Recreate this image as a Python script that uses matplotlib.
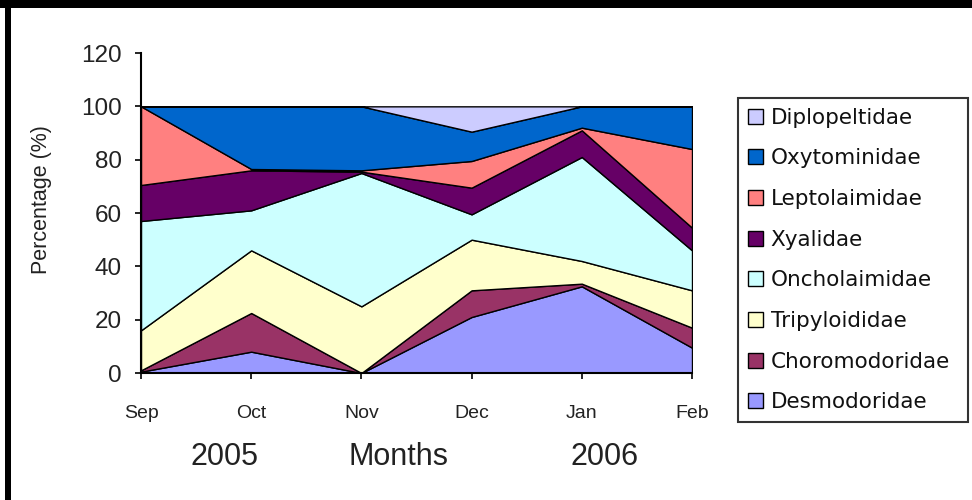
import matplotlib
matplotlib.use("Agg")
import matplotlib.pyplot as plt
from matplotlib.patches import Rectangle

plt.rcParams['font.family'] = ['Liberation Sans', 'DejaVu Sans']

months = ["Sep", "Oct", "Nov", "Dec", "Jan", "Feb"]

# Percentage of each family per month (stacked bottom to top)
desmodoridae = [0.5, 8, 0, 21, 32.5, 9.5]
choromodoridae = [0.5, 14.5, 0, 10, 1, 7.5]
tripyloididae = [15, 23.5, 25, 19, 8.5, 14]
oncholaimidae = [41, 15, 50, 9.5, 39, 15]
xyalidae = [13.5, 15, 0.5, 10, 10, 8.5]
leptolaimidae = [29.5, 0.5, 0.5, 10, 1, 29.5]
oxystominidae = [0, 23.5, 24, 11, 8, 16]
diplopeltidae = [0, 0, 0, 9.5, 0, 0]

names = ["Desmodoridae", "Choromodoridae", "Tripyloididae", "Oncholaimidae",
         "Xyalidae", "Leptolaimidae", "Oxytominidae", "Diplopeltidae"]
series = [desmodoridae, choromodoridae, tripyloididae, oncholaimidae,
          xyalidae, leptolaimidae, oxystominidae, diplopeltidae]
colors = ["#9999FF", "#993366", "#FFFFCC", "#CCFFFF",
          "#660066", "#FF8080", "#0066CC", "#CCCCFF"]

yticks = [0, 20, 40, 60, 80, 100, 120]

fig = plt.figure(figsize=(9.72, 5), dpi=100)
W, H = 972, 500
ax = fig.add_axes([141 / W, 1 - 373 / H, (692 - 141) / W, (373 - 53) / H])

x = list(range(len(months)))
polys = ax.stackplot(x, *series, colors=colors, edgecolor="black",
                     linewidth=1.0, labels=names)

ax.set_xlim(0, len(months) - 1)
ax.set_ylim(0, 120)
ax.set_yticks(yticks)
ax.set_yticklabels([str(v) for v in yticks], fontsize=17.5, color="#222222")
ax.set_xticks(x)
ax.set_xticklabels(months, fontsize=14, color="#222222")
ax.tick_params(axis="y", length=4, width=1.2, pad=10)
ax.tick_params(axis="x", length=4, width=1.2, pad=19)
for s in ("top", "right"):
    ax.spines[s].set_visible(False)
for s in ("left", "bottom"):
    ax.spines[s].set_linewidth(1.5)
    ax.spines[s].set_color("black")

ax.set_ylabel("Percentage (%)", fontsize=15.5, color="#222222")
ax.yaxis.set_label_coords((52 - 141) / (692 - 141), (373 - 200) / (373 - 53))

# Year and axis captions under the month labels
cap = dict(fontsize=22, ha="center", va="center", color="#222222")
fig.text(224 / W, 1 - 457 / H, "2005", **cap)
fig.text(398 / W, 1 - 457 / H, "Months", **cap)
fig.text(605 / W, 1 - 457 / H, "2006", **cap)

handles = polys[::-1]
labels = names[::-1]
leg = fig.legend(handles, labels, loc="upper left",
                 bbox_to_anchor=(738 / W, 1 - 420 / H, 230 / W, 322 / H),
                 mode="expand", borderaxespad=0,
                 prop={"family": "DejaVu Sans", "size": 15.5},
                 frameon=True, fancybox=False, shadow=False,
                 handlelength=0.7, handleheight=0.7, handletextpad=0.37,
                 labelspacing=0.96, borderpad=0.45)
leg.get_frame().set_edgecolor("black")
leg.get_frame().set_linewidth(1.5)
for t in leg.get_texts():
    t.set_color("#111111")

# Frame edges along the top and left of the figure
fig.add_artist(Rectangle((0, 1 - 8 / H), 1, 8 / H, transform=fig.transFigure,
                         facecolor="black", edgecolor="none"))
fig.add_artist(Rectangle((5 / W, 0), 6 / W, 1, transform=fig.transFigure,
                         facecolor="black", edgecolor="none"))

fig.savefig("out.png", dpi=100)
